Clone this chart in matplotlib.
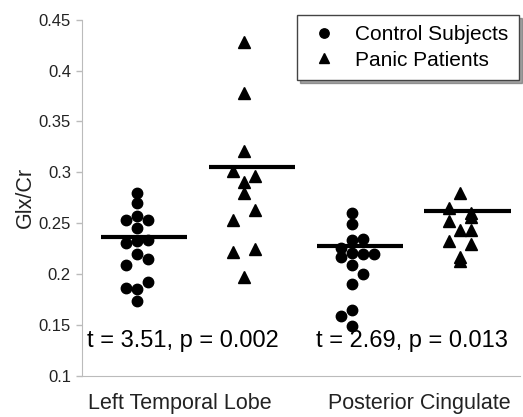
import matplotlib
matplotlib.use("Agg")
import matplotlib.pyplot as plt
from matplotlib.ticker import FormatStrFormatter

plt.rcParams['font.family'] = ['Liberation Sans', 'DejaVu Sans']

# Glx/Cr values
left_control = [0.280, 0.270, 0.253, 0.257, 0.253, 0.245, 0.231, 0.233, 0.234,
                0.220, 0.215, 0.209, 0.187, 0.186, 0.192, 0.174]
left_panic = [0.428, 0.378, 0.321, 0.301, 0.296, 0.291, 0.280, 0.263, 0.253,
              0.222, 0.225, 0.197]
post_control = [0.260, 0.249, 0.234, 0.235, 0.226, 0.217, 0.221, 0.220, 0.220,
                0.209, 0.200, 0.190, 0.165, 0.159, 0.149]
post_panic = [0.280, 0.265, 0.260, 0.256, 0.252, 0.243, 0.243, 0.233, 0.230,
              0.217, 0.213]

# column of each point in the dot plot (-1 left, 0 centre, 1 right)
left_control_col = [0, 0, -1, 0, 1, 0, -1, 0, 1, 0, 1, -1, -1, 0, 1, 0]
left_panic_col = [0, 0, 0, -1, 1, 0, 0, 1, -1, -1, 1, 0]
post_control_col = [0, 0, 0, 1, -1, -1, 0, 1, 2, 0, 1, 0, 0, -1, 0]
post_panic_col = [0, -1, 1, 1, -1, 0, 1, -1, 1, 0, 0]

group_means = [0.2365, 0.305, 0.228, 0.262]
stats_text = ["t = 3.51, p = 0.002", "t = 2.69, p = 0.013"]
regions = ["Left Temporal Lobe", "Posterior Cingulate"]

fig = plt.figure(figsize=(5.23, 4.17), dpi=100)
ax = fig.add_axes([0.157, 0.098, 0.837, 0.855])

groups = [(left_control, left_control_col, 'o'),
          (left_panic, left_panic_col, '^'),
          (post_control, post_control_col, 'o'),
          (post_panic, post_panic_col, '^')]
for i, (vals, cols, m) in enumerate(groups):
    xs = [i + 1 + 0.102 * c for c in cols]
    ms = 7.5 if m == 'o' else 8.5
    label = None
    if i == 0:
        label = "Control Subjects"
    elif i == 1:
        label = "Panic Patients"
    ax.plot(xs, vals, m, color='black', ms=ms, linestyle='none', label=label)
    ax.plot([i + 1.07 - 0.4, i + 1.07 + 0.4], [group_means[i]] * 2,
            color='black', lw=3, solid_capstyle='butt')

ax.text(0.54, 0.134, stats_text[0], fontsize=17, va='center')
ax.text(2.663, 0.134, stats_text[1], fontsize=17, va='center')

ax.set_xlim(0.493, 4.556)
ax.set_ylim(0.1, 0.45)
ax.set_yticks([0.1, 0.15, 0.2, 0.25, 0.3, 0.35, 0.4, 0.45])
ax.yaxis.set_major_formatter(FormatStrFormatter('%g'))
ax.set_xticks([])
ax.tick_params(axis='y', colors='#bbbbbb', labelcolor='#222222', labelsize=12,
               length=4, width=1, pad=4)
for s in ['top', 'right']:
    ax.spines[s].set_visible(False)
for s in ['left', 'bottom']:
    ax.spines[s].set_color('#bbbbbb')
ax.set_ylabel("Glx/Cr", fontsize=15.5, color='#222222', labelpad=2)

fig.text(180 / 523, 1 - 404 / 417, regions[0], fontsize=15.5, ha='center',
         va='center', color='#222222')
fig.text(419 / 523, 1 - 404 / 417, regions[1], fontsize=15.5, ha='center',
         va='center', color='#222222')

leg = ax.legend(loc='upper right', bbox_to_anchor=(519 / 523, 1 - 15 / 417),
                bbox_transform=fig.transFigure, borderaxespad=0, fontsize=15,
                frameon=True, fancybox=False, shadow=True, handletextpad=0.7,
                borderpad=0.5, labelspacing=0.3, handlelength=1.6,
                markerscale=0.9)
leg.get_frame().set_edgecolor('#444444')
leg.get_frame().set_linewidth(1)

fig.savefig("out.png", dpi=100)
